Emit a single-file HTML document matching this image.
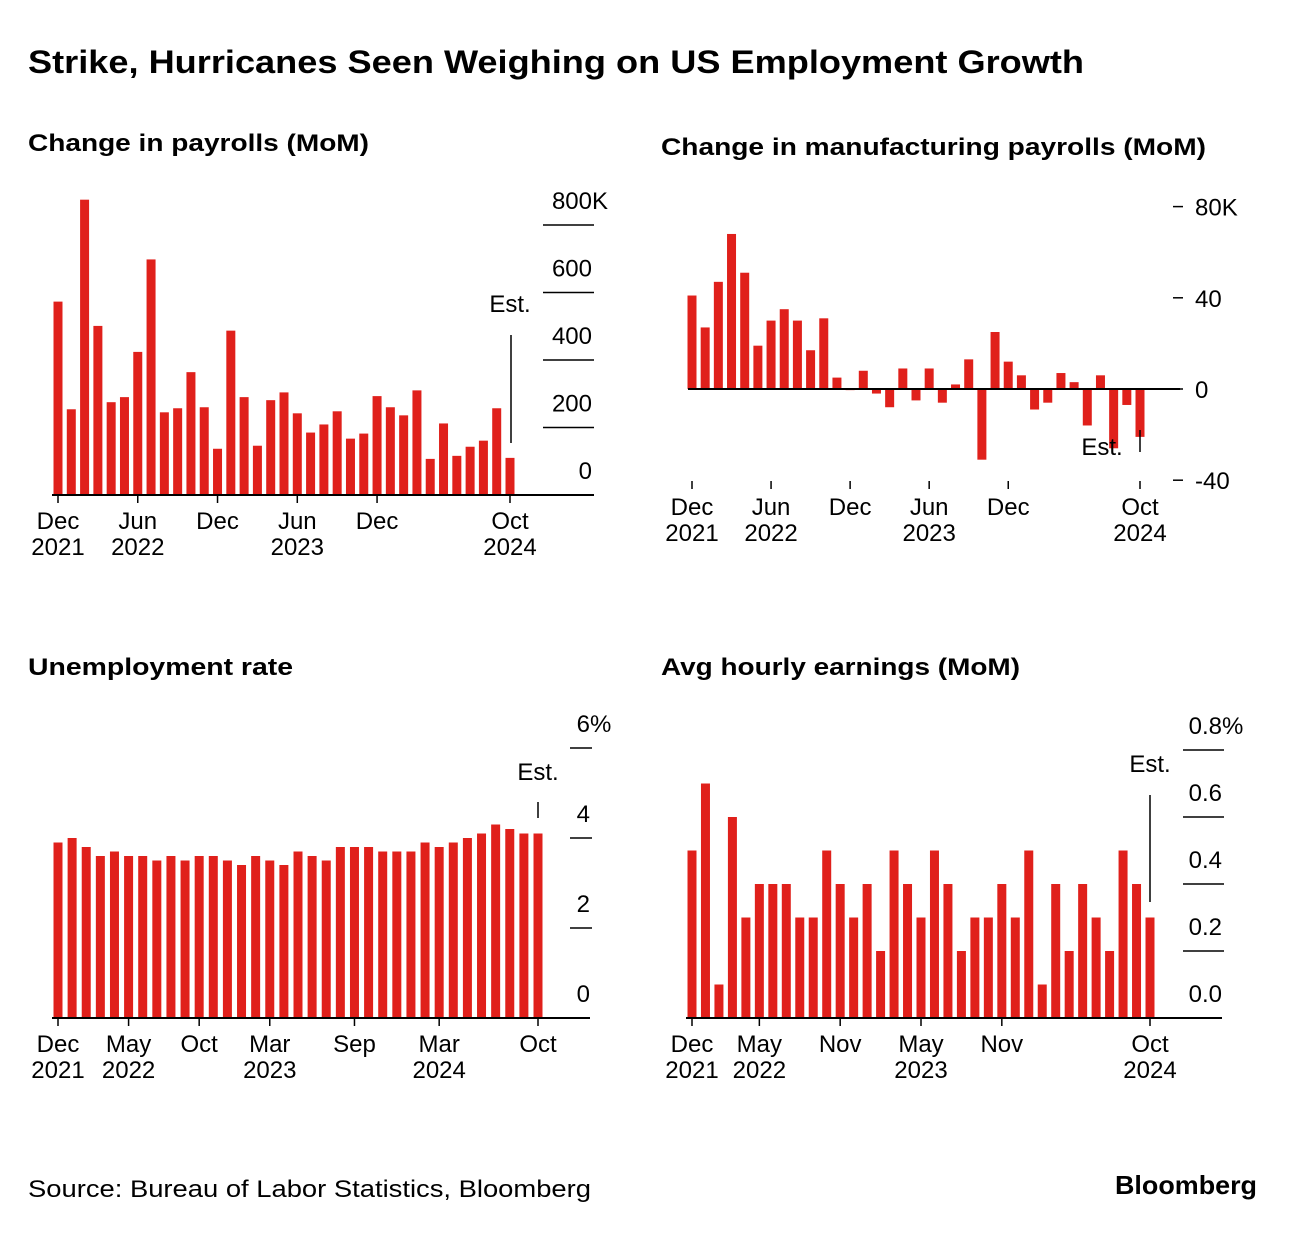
<!DOCTYPE html>
<html><head><meta charset="utf-8"><style>
body{margin:0;background:#fff;font-family:"Liberation Sans",sans-serif;}
svg text{font-family:"Liberation Sans",sans-serif;fill:#000;}
</style></head><body>
<svg id="c" width="1296" height="1230">
<text x="28" y="73" font-size="32" font-weight="bold" textLength="1056" lengthAdjust="spacingAndGlyphs">Strike, Hurricanes Seen Weighing on US Employment Growth</text>
<text x="28" y="151" font-size="24" font-weight="bold" textLength="341" lengthAdjust="spacingAndGlyphs">Change in payrolls (MoM)</text>
<text x="661" y="155" font-size="24" font-weight="bold" textLength="545" lengthAdjust="spacingAndGlyphs">Change in manufacturing payrolls (MoM)</text>
<text x="28" y="675" font-size="24" font-weight="bold" textLength="265" lengthAdjust="spacingAndGlyphs">Unemployment rate</text>
<text x="661" y="675" font-size="24" font-weight="bold" textLength="359" lengthAdjust="spacingAndGlyphs">Avg hourly earnings (MoM)</text>
<text x="28" y="1197" font-size="24" textLength="563" lengthAdjust="spacingAndGlyphs">Source: Bureau of Labor Statistics, Bloomberg</text>
<text x="1257" y="1194" font-size="26" font-weight="bold" text-anchor="end" textLength="142" lengthAdjust="spacingAndGlyphs">Bloomberg</text>
</svg>
<script>
const payrolls=[573,254,875,501,275,290,424,698,245,257,364,260,137,487,290,146,281,304,242,185,209,248,167,182,293,260,236,310,107,212,116,143,161,257,110];
const payTicks=[0,200,400,600,800];
const mfg=[41,27,47,68,51,19,30,35,30,17,31,5,-0.5,8,-2,-8,9,-5,9,-6,2,13,-31,25,12,6,-9,-6,7,3,-16,6,-26,-7,-21];
const mfgTicks=[-40,0,40,80];
const unemp=[3.9,4.0,3.8,3.6,3.7,3.6,3.6,3.5,3.6,3.5,3.6,3.6,3.5,3.4,3.6,3.5,3.4,3.7,3.6,3.5,3.8,3.8,3.8,3.7,3.7,3.7,3.9,3.8,3.9,4.0,4.1,4.3,4.2,4.1,4.1];
const unTicks=[0,2,4,6];
const ahe=[0.5,0.7,0.1,0.6,0.3,0.4,0.4,0.4,0.3,0.3,0.5,0.4,0.3,0.4,0.2,0.5,0.4,0.3,0.5,0.4,0.2,0.3,0.3,0.4,0.3,0.5,0.1,0.4,0.2,0.4,0.3,0.2,0.5,0.4,0.3];
const aheTicks=[0,0.2,0.4,0.6,0.8];
const svg=document.getElementById('c');
const NS='http://www.w3.org/2000/svg';
function mk(t,a){const e=document.createElementNS(NS,t);for(const k in a)e.setAttribute(k,a[k]);svg.appendChild(e);return e;}
function chart(o){
  const n=o.data.length,step=(o.x1-o.x0)/(n-1);
  const X=i=>o.x0+i*step, Y=v=>o.y0-v*o.k;
  o.data.forEach((v,i)=>{
    const y=Y(v),h=Math.abs(y-o.y0);
    const r=mk('rect',{x:X(i)-4.5,y:Math.min(y,o.y0),width:9,height:Math.max(h,1),fill:'#e0201b'});
    
    
  });
  const b=mk('line',{x1:o.bx0,x2:o.bx1,y1:o.y0,y2:o.y0,stroke:'#000','stroke-width':2});
  
  
  o.ticks.forEach((t,j)=>{
    const y=Y(t);
    if(o.dash){
      mk('line',{x1:o.tx0,x2:o.tx0+10,y1:y,y2:y,stroke:'#000','stroke-width':1.5});
      const tx=mk('text',{x:o.tx0+22,y:y+9,'font-size':24});
      tx.textContent=String(t)+(j===o.ticks.length-1?o.unit:'');
      
      
    } else {
      if(t!==0) mk('line',{x1:o.tx0,x2:o.tx1,y1:y,y2:y,stroke:'#000','stroke-width':1.5});
      const tx=mk('text',{x:o.tx1-2,y:y-16,'font-size':24,'text-anchor':'end'});
      tx.textContent=o.fmt(t);
      
      
      if(j===o.ticks.length-1){
        const u=mk('text',{x:o.tx1-2,y:y-16,'font-size':24});
        u.textContent=o.unit;
        
        
      }
    }
  });
  o.xl.forEach(l=>{
    mk('line',{x1:X(l[0]),x2:X(l[0]),y1:o.xt,y2:o.xt+8,stroke:'#000','stroke-width':1.5});
    const a=mk('text',{x:X(l[0]),y:o.xt+34,'font-size':24,'text-anchor':'middle'});a.textContent=l[1];
    
    
    if(l[2]){const b2=mk('text',{x:X(l[0]),y:o.xt+60,'font-size':24,'text-anchor':'middle'});b2.textContent=l[2];
    
    }
  });
  const ex=X(n-1)-o.estDx;
  mk('line',{x1:ex,x2:ex,y1:o.estY1,y2:o.estY2,stroke:'#000','stroke-width':1.5});
  const et=mk('text',{x:ex+o.estTx,y:o.estTy,'font-size':24,'text-anchor':'middle'});et.textContent='Est.';
  
  
}
chart({name:'payrolls',data:payrolls,ticks:payTicks,x0:58,x1:510,y0:495,k:0.3375,bx0:52,bx1:594,tx0:543,tx1:594,unit:'K',
 fmt:(t)=>String(t),xt:495,
 xl:[[0,'Dec','2021'],[6,'Jun','2022'],[12,'Dec'],[18,'Jun','2023'],[24,'Dec'],[34,'Oct','2024']],
 estDx:-1,estY1:335,estY2:443,estTx:-1,estTy:312});
chart({name:'manufacturing',data:mfg,ticks:mfgTicks,x0:692,x1:1140,y0:389,k:2.28,bx0:688,bx1:1180,tx0:1173,dash:true,unit:'K',
 fmt:(t)=>String(t),xt:481,
 xl:[[0,'Dec','2021'],[6,'Jun','2022'],[12,'Dec'],[18,'Jun','2023'],[24,'Dec'],[34,'Oct','2024']],
 estDx:0,estY1:430,estY2:452,estTx:-38,estTy:455});
chart({name:'unemployment',data:unemp,ticks:unTicks,x0:58,x1:538,y0:1018,k:45,bx0:52,bx1:590,tx0:570,tx1:592,unit:'%',
 fmt:(t)=>String(t),xt:1018,
 xl:[[0,'Dec','2021'],[5,'May','2022'],[10,'Oct'],[15,'Mar','2023'],[21,'Sep'],[27,'Mar','2024'],[34,'Oct']],
 estDx:0,estY1:802,estY2:818,estTx:0,estTy:780});
chart({name:'earnings',data:ahe,ticks:aheTicks,x0:692,x1:1150,y0:1018,k:335,bx0:686,bx1:1222,tx0:1183,tx1:1224,unit:'%',
 fmt:(t)=>t.toFixed(1),xt:1018,
 xl:[[0,'Dec','2021'],[5,'May','2022'],[11,'Nov'],[17,'May','2023'],[23,'Nov'],[34,'Oct','2024']],
 estDx:0,estY1:795,estY2:902,estTx:0,estTy:772});
</script>
</body></html>
